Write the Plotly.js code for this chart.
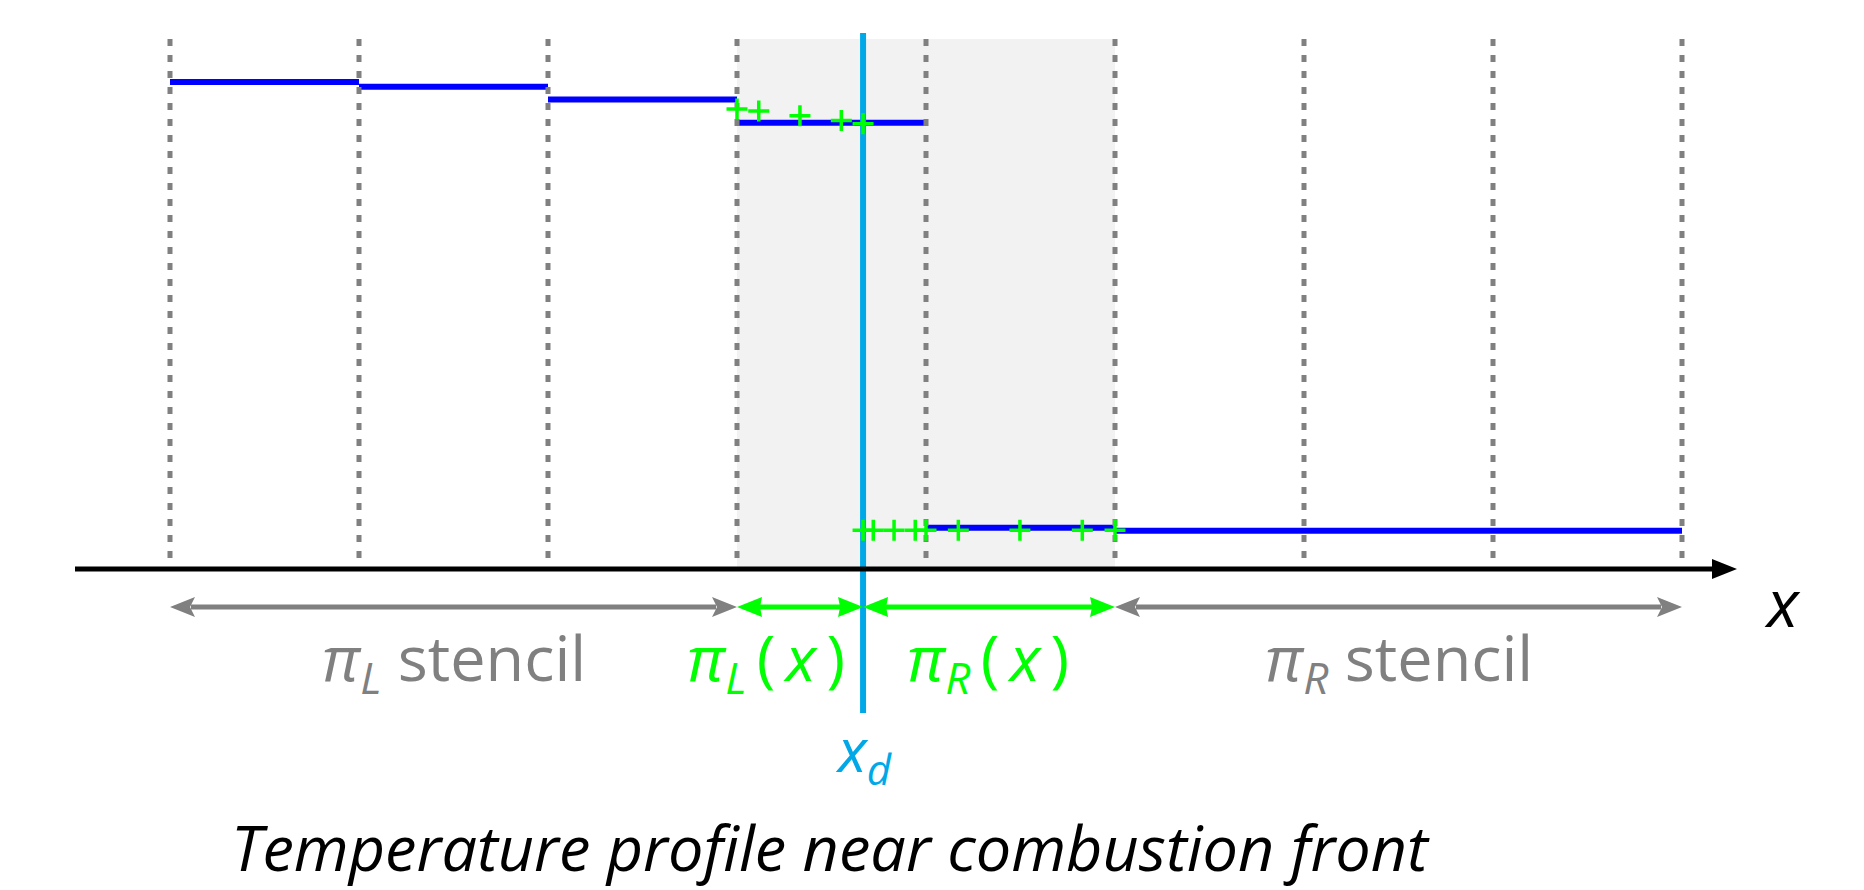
<!DOCTYPE html>
<html><head><meta charset="utf-8">
<script src="https://cdn.plot.ly/plotly-3.0.1.min.js"></script>
<style>html,body{margin:0;padding:0;background:#fff;overflow:hidden;}</style>
</head><body><div id="chart" style="width:1864px;height:890px;"></div>
<script>
// ---- data ----
const cellEdges = [0, 1, 2, 3, 4, 5, 6, 7, 8];
const cellValues = [0.919, 0.910, 0.886, 0.842, 0.078, 0.072, 0.072, 0.072];
const frontX = 3.667;
const leftStencilX = [3.0, 3.115, 3.333, 3.552, 3.667];
const leftStencilT = [0.868, 0.864, 0.855, 0.846, 0.840];
const rightStencilX = [3.667, 3.721, 3.831, 3.943, 4.0, 4.171, 4.497, 4.827, 5.0];
const rightStencilT = [0.073, 0.073, 0.073, 0.073, 0.073, 0.073, 0.073, 0.073, 0.073];
const leftStencilSpan = [0, 3];
const frontSpan = [3, 5];
const rightStencilSpan = [5, 8];
const labelLeftStencil = "<i>π</i><sub><i>L</i></sub> stencil";
const labelLeftPoly = "<i>π</i><sub><i>L</i></sub>\u2009(\u2009<i>x</i>\u2009)";
const labelRightPoly = "<i>π</i><sub><i>R</i></sub>\u2009(\u2009<i>x</i>\u2009)";
const labelRightStencil = "<i>π</i><sub><i>R</i></sub> stencil";
const labelFront = "<i>x</i><sub><i>d</i></sub>";
const labelAxis = "<i>x</i>";
const titleText = "<i>Temperature profile near combustion front</i>";

// ---- styling / geometry helpers ----
const PX_X = 189, PX_T = 530;            // pixels per data unit
const X0PX = 170, T0PX = 569;            // pixel position of x=0, T=0
const W = 1864, H = 890;
const xRange = [-X0PX / PX_X, (W - X0PX) / PX_X];
const yRange = [(T0PX - H) / PX_T, T0PX / PX_T];
const px2x = p => p / PX_X, px2t = p => p / PX_T;

const BLUE = '#0000ff', GREEN = '#00ff00', GRAY = '#808080', CYAN = '#00a8e8';
const FONT = '"Open Sans", "Noto Sans", sans-serif';

// step segments
const stepX = [], stepY = [];
for (let i = 0; i < cellValues.length; i++) {
  stepX.push(cellEdges[i], cellEdges[i + 1], null);
  stepY.push(cellValues[i], cellValues[i], null);
}
// dotted cell boundaries
const gridX = [], gridY = [];
cellEdges.forEach(e => { gridX.push(e, e, null); gridY.push(1.0, 0, null); });

const traces = [
  {x: stepX, y: stepY, mode: 'lines', line: {color: BLUE, width: 6}, hoverinfo: 'skip', showlegend: false},
  {x: gridX, y: gridY, mode: 'lines', line: {color: GRAY, width: 5, dash: '7px,9px'}, hoverinfo: 'skip', showlegend: false},
  {x: [frontX, frontX], y: [px2t(T0PX - 33), px2t(T0PX - 713)], mode: 'lines', line: {color: CYAN, width: 6}, hoverinfo: 'skip', showlegend: false},
  {x: leftStencilX, y: leftStencilT, mode: 'markers', marker: {symbol: 'cross-thin', size: 15, line: {width: 3.5, color: GREEN}}, hoverinfo: 'skip', showlegend: false},
  {x: rightStencilX, y: rightStencilT, mode: 'markers', marker: {symbol: 'cross-thin', size: 15, line: {width: 3.5, color: GREEN}}, hoverinfo: 'skip', showlegend: false}
];

// arrows
const arrowT = -px2t(38);
function head(tipX, dir, t, L, Hh, notch, color) {
  const bx = tipX - dir * px2x(L), nx = tipX - dir * px2x(L - notch);
  return {type: 'path', xref: 'x', yref: 'y', layer: 'above',
    path: `M ${tipX},${t} L ${bx},${t + px2t(Hh)} L ${nx},${t} L ${bx},${t - px2t(Hh)} Z`,
    fillcolor: color, line: {width: 0}};
}
function dblArrow(a, b, color, notch) {
  const L = 25, Hh = 10;
  return [
    {type: 'line', xref: 'x', yref: 'y', layer: 'above', x0: a + px2x(L - 4), x1: b - px2x(L - 4), y0: arrowT, y1: arrowT, line: {color: color, width: 5}},
    head(a, -1, arrowT, L, Hh, notch, color),
    head(b, 1, arrowT, L, Hh, notch, color)
  ];
}
const axisStart = px2x(75 - X0PX), axisHeadBase = px2x(1712 - X0PX), axisTip = px2x(1737 - X0PX);

const shapes = [
  {type: 'rect', xref: 'x', yref: 'y', layer: 'below', x0: frontSpan[0], x1: frontSpan[1], y0: 0, y1: 1.0, fillcolor: '#f2f2f2', line: {width: 0}},
  {type: 'line', xref: 'x', yref: 'y', layer: 'above', x0: axisStart, x1: axisHeadBase + px2x(2), y0: 0, y1: 0, line: {color: '#000', width: 5}},
  {type: 'path', xref: 'x', yref: 'y', layer: 'above', path: `M ${axisTip},0 L ${axisHeadBase},${px2t(10)} L ${axisHeadBase},${-px2t(10)} Z`, fillcolor: '#000', line: {width: 0}},
  ...dblArrow(leftStencilSpan[0], leftStencilSpan[1], GRAY, 5),
  ...dblArrow(frontSpan[0], frontX, GREEN, 2),
  ...dblArrow(frontX, frontSpan[1], GREEN, 2),
  ...dblArrow(rightStencilSpan[0], rightStencilSpan[1], GRAY, 5)
];

const labelT = -px2t(660 - T0PX);
const annotations = [
  {x: (leftStencilSpan[0] + leftStencilSpan[1]) / 2, y: labelT, text: labelLeftStencil, font: {family: FONT, size: 63, color: GRAY}},
  {x: px2x(766 - X0PX), y: labelT, text: labelLeftPoly, font: {family: FONT, size: 63, color: GREEN}},
  {x: px2x(988 - X0PX), y: labelT, text: labelRightPoly, font: {family: FONT, size: 63, color: GREEN}},
  {x: (rightStencilSpan[0] + rightStencilSpan[1]) / 2, y: labelT, text: labelRightStencil, font: {family: FONT, size: 63, color: GRAY}},
  {x: frontX, y: -px2t(752 - T0PX), text: labelFront, font: {family: FONT, size: 60, color: CYAN}},
  {x: px2x(1782 - X0PX), y: -px2t(601 - T0PX), text: labelAxis, font: {family: FONT, size: 66, color: '#000'}},
  {x: px2x(830 - X0PX), y: -px2t(846 - T0PX), text: titleText, font: {family: FONT, size: 63, color: '#000'}}
].map(a => Object.assign({xref: 'x', yref: 'y', showarrow: false, xanchor: 'center', yanchor: 'middle'}, a));

const layout = {
  width: W, height: H, autosize: false,
  margin: {l: 0, r: 0, t: 0, b: 0, pad: 0},
  paper_bgcolor: '#fff', plot_bgcolor: '#fff',
  xaxis: {range: xRange, visible: false, fixedrange: true},
  yaxis: {range: yRange, visible: false, fixedrange: true},
  shapes: shapes, annotations: annotations, showlegend: false
};
Plotly.newPlot('chart', traces, layout, {displayModeBar: false, staticPlot: true});
</script></body></html>
